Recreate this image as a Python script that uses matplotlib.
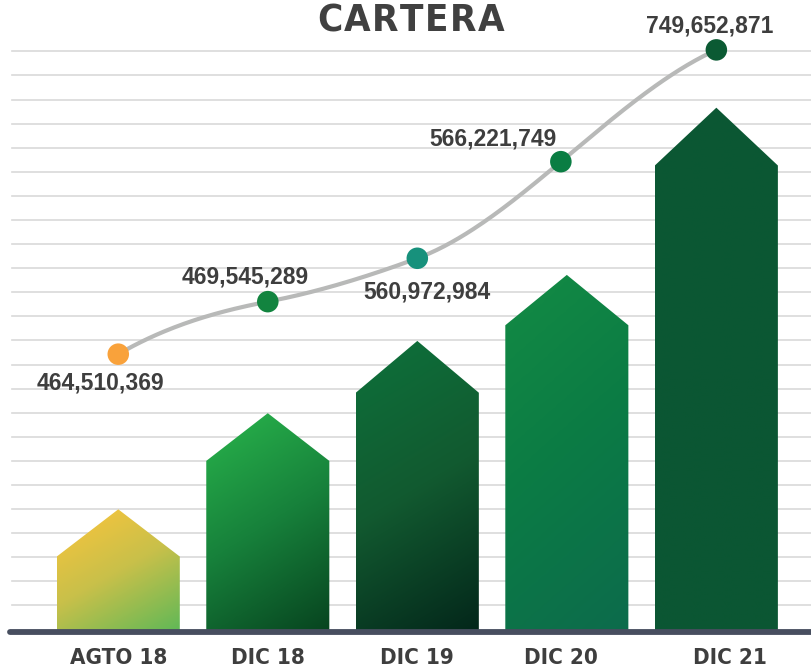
import numpy as np
import matplotlib
matplotlib.use('Agg')
import matplotlib.pyplot as plt
from matplotlib import font_manager
from matplotlib.patches import Polygon
from matplotlib.colors import LinearSegmentedColormap

# data (heights in grid-line units above the base line)
categories = ['AGTO 18', 'DIC 18', 'DIC 19', 'DIC 20', 'DIC 21']
values = ['464,510,369', '469,545,289', '560,972,984', '566,221,749', '749,652,871']
bar_shoulder = [3.13, 7.10, 9.93, 12.73, 19.36]
bar_peak = [5.09, 9.08, 12.08, 14.82, 21.76]
dot_x = [0, 1, 2, 2.96, 4]
dot_y = [11.53, 13.71, 15.51, 19.52, 24.16]
label_x = [0, 1, 2, 2.96, 4.09]

# style
bar_width = 0.823
bar_colors = [['#fec53b', '#c8c04a', '#5db857'],
              ['#29b54c', '#17813b', '#07431f'],
              ['#0d713b', '#125a30', '#03261a'],
              ['#138b44', '#0b7b45', '#0d6b4c'],
              ['#0b5834', '#0b5733', '#0b5633']]
bar_tilt = [0.55, 0.35, 0.25, 0.3, 0.0]
dot_colors = ['#f9a23b', '#12843f', '#17917c', '#0a7d43', '#0b5a33']
curve_slopes = [3.6, 1.2, 2.3, 5.2, 2.8]
label_off = [(-13, -21), (-16, 18), (7, -24), (-49, 16), (-5, 17)]  # points
text_col = '#3e3e3e'

# pick a condensed bold face if one is installed
have = [(f.name, f.stretch) for f in font_manager.fontManager.ttflist]
cond_stretch = 'normal'
if any(n == 'Liberation Sans Narrow' for n, s in have):
    narrow = ['Liberation Sans Narrow', 'DejaVu Sans']
    cond_size = 18
elif any(n == 'DejaVu Sans' and s in ('condensed', 'semi-condensed', 600, 700) for n, s in have):
    narrow = ['DejaVu Sans']
    cond_stretch = 'condensed'
    cond_size = 16
else:
    narrow = ['Liberation Sans', 'DejaVu Sans']
    cond_size = 16.5
wide = ['Liberation Sans', 'DejaVu Sans']

fig = plt.figure(figsize=(8.11, 6.71), dpi=100)
ax = fig.add_axes([0, 0, 1, 1])
ax.axis('off')
x0, x1 = -0.791, 4.633
y0, y1 = -1.62, 26.23

# grid lines
for k in range(24):
    ax.plot([-0.711, x1 + 0.1], [1.1 + k, 1.1 + k], color='#d9d9d9', lw=1.2, zorder=1)

# arrow shaped bars with gradients
for i in range(len(categories)):
    l = i - bar_width / 2
    r = i + bar_width / 2
    verts = [(l, -0.1), (l, bar_shoulder[i]), (i, bar_peak[i]),
             (r, bar_shoulder[i]), (r, -0.1)]
    poly = Polygon(verts, closed=True, facecolor='none', edgecolor='none')
    ax.add_patch(poly)
    u, v = np.meshgrid(np.linspace(0, 1, 60), np.linspace(0, 1, 120))
    t = (u * bar_tilt[i] + v) / (1 + bar_tilt[i])
    cmap = LinearSegmentedColormap.from_list('g%d' % i, bar_colors[i])
    im = ax.imshow(t, cmap=cmap, vmin=0, vmax=1, aspect='auto', origin='upper',
                   extent=[l, r, -0.1, bar_peak[i]], zorder=2, interpolation='bilinear')
    im.set_clip_path(poly)

# base line
ax.plot([-0.724, x1 + 0.2], [0.0, 0.0], color='#474e5f', lw=4.2,
        solid_capstyle='round', zorder=3)

# smooth curve through the dots (cubic hermite)
cx, cy = [], []
for i in range(len(dot_x) - 1):
    h = dot_x[i + 1] - dot_x[i]
    s = np.linspace(0, 1, 60)
    h00 = 2 * s**3 - 3 * s**2 + 1
    h10 = s**3 - 2 * s**2 + s
    h01 = -2 * s**3 + 3 * s**2
    h11 = s**3 - s**2
    cx.extend(dot_x[i] + s * h)
    cy.extend(h00 * dot_y[i] + h10 * h * curve_slopes[i] +
              h01 * dot_y[i + 1] + h11 * h * curve_slopes[i + 1])
ax.plot(cx, cy, color='#b8b9b8', lw=3.0, solid_capstyle='round', zorder=4)

ax.scatter(dot_x, dot_y, s=15.5**2, c=dot_colors, zorder=5, linewidths=0)

for i in range(len(values)):
    ax.annotate(values[i], (dot_x[i], dot_y[i]), xytext=label_off[i],
                textcoords='offset points', ha='center', va='center',
                fontsize=16.5, fontweight='bold', color=text_col,
                family=wide, zorder=6)

for i in range(len(categories)):
    ax.text(label_x[i], -1.08, categories[i], ha='center', va='center',
            fontsize=cond_size, fontweight='bold', color=text_col,
            family=narrow, fontstretch=cond_stretch)

ax.set_xlim(x0, x1)
ax.set_ylim(y0, y1)

# title with wide letter spacing: place letters one by one
title = 'CARTERA'
renderer = fig.canvas.get_renderer()
letters = []
for ch in title:
    t = fig.text(0, 0, ch, fontsize=27.5, fontweight='bold', color='#404040',
                 family=narrow, fontstretch=cond_stretch, ha='left', va='center')
    letters.append(t)
widths = [t.get_window_extent(renderer).width for t in letters]
gap = 1.5
total = sum(widths) + gap * (len(title) - 1)
xpos = 411 - total / 2
for t, w in zip(letters, widths):
    t.set_position((xpos / 811, 1 - 21 / 671))
    xpos += w + gap

fig.savefig('out.png', dpi=100)
